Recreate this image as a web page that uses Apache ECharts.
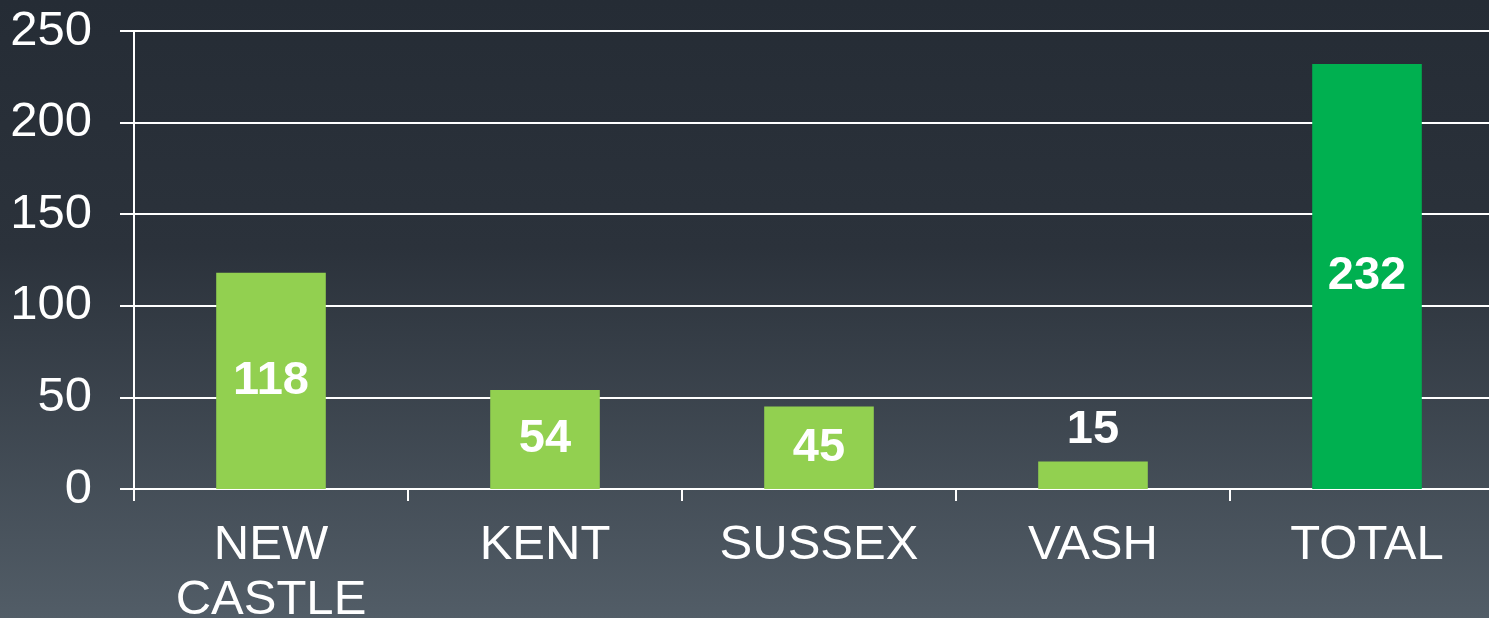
<!DOCTYPE html>
<html>
<head>
<meta charset="utf-8">
<script src="https://cdn.jsdelivr.net/npm/echarts@6/dist/echarts.min.js"></script>
<style>
  html, body { margin: 0; padding: 0; }
  #main { width: 1489px; height: 618px; background: linear-gradient(to bottom, #252c35 0%, #2b323b 40%, #525d67 100%); }
</style>
</head>
<body>
<div id="main"></div>
<script>
var categories = ['NEW\nCASTLE', 'KENT', 'SUSSEX', 'VASH', 'TOTAL'];
var values = [118, 54, 45, 15, 232];
var barColors = ['#92d050', '#92d050', '#92d050', '#92d050', '#00b050'];
var labelPositions = ['inside', 'inside', 'inside', 'top', 'inside'];
var yTicks = [0, 50, 100, 150, 200, 250];

var myChart = echarts.init(document.getElementById('main'));

var option = {
    animation: false,
    textStyle: { fontFamily: 'Liberation Sans, Arial, sans-serif' },
    grid: { left: 134, right: -15, top: 31, bottom: 129, containLabel: false, outerBoundsMode: 'none' },
    xAxis: {
        type: 'category',
        data: categories,
        axisLine: { lineStyle: { color: '#ffffff', width: 2 } },
        axisTick: { show: true, length: 12, inside: false, lineStyle: { color: '#ffffff', width: 2 } },
        axisLabel: { color: '#ffffff', fontSize: 49, margin: 29, lineHeight: 55, interval: 0 }
    },
    yAxis: {
        type: 'value',
        min: yTicks[0],
        max: yTicks[yTicks.length - 1],
        interval: 50,
        axisLine: { show: true, lineStyle: { color: '#ffffff', width: 2 } },
        axisTick: { show: true, length: 14, lineStyle: { color: '#ffffff', width: 2 } },
        splitLine: { show: true, lineStyle: { color: '#ffffff', width: 2 } },
        axisLabel: { color: '#ffffff', fontSize: 49, margin: 42 }
    },
    series: [{
        type: 'bar',
        barWidth: '40%',
        data: values.map(function (v, i) {
            return {
                value: v,
                itemStyle: { color: barColors[i] },
                label: { position: labelPositions[i] }
            };
        }),
        label: {
            show: true,
            color: '#ffffff',
            fontSize: 47,
            fontWeight: 'bold',
            distance: 8
        }
    }]
};

myChart.setOption(option);
</script>
</body>
</html>
